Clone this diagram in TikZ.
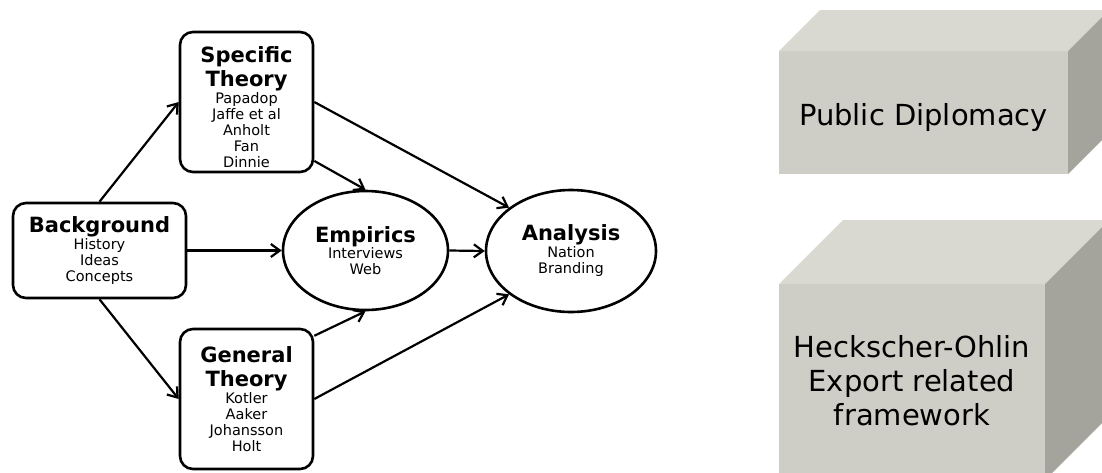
\documentclass[tikz,border=0pt]{standalone}
\usepackage{fontspec}
\setmainfont{DejaVu Sans}
\usetikzlibrary{shapes.geometric,arrows.meta}

\definecolor{cubefront}{RGB}{207,206,198}
\definecolor{cubetop}{RGB}{217,217,209}
\definecolor{cubeside}{RGB}{165,164,156}

\newcommand{\hd}{\fontsize{21}{16}\selectfont\bfseries}
\newcommand{\smallsz}{\fontsize{14.5}{16}\selectfont\lineskiplimit=-100pt\relax}
\newcommand{\cubesz}{\fontsize{29}{34}\selectfont\lineskiplimit=-100pt\relax}

\begin{document}
\begin{tikzpicture}[x=1pt,y=-1pt,
  box/.style={draw, line width=2.6pt, rounded corners=13pt, minimum width=133pt,
              inner sep=0pt, align=center, font=\smallsz},
  oval/.style={ellipse, draw, line width=2.6pt, inner sep=0pt, align=center, font=\smallsz},
  link/.style={line width=2.2pt, -{Straight Barb[length=9pt,width=13pt]}},
  cubetext/.style={font=\cubesz, align=center, inner sep=0pt}]

\useasboundingbox (0,0) rectangle (1102,472);

% research design diagram
\node[box, minimum height=140pt] (spec) at (246.5,102)
  {\rule{0pt}{27pt}\hd Specific\\[8pt]\hd Theory\\[1pt]Papadop\\Jaffe et al\\Anholt\\Fan\\Dinnie};
\node[box, minimum width=173pt, minimum height=95pt] (bg) at (99.5,250.5)
  {\hd Background\\[1pt]History\\Ideas\\Concepts};
\node[box, minimum height=140pt] (gen) at (246.5,399)
  {\hd General\\[8pt]\hd Theory\\[1pt]Kotler\\Aaker\\Johansson\\Holt};
\node[oval, minimum width=165pt, minimum height=119pt] (emp) at (365.5,250.5)
  {\hd Empirics\\Interviews\\Web};
\node[oval, minimum width=170pt, minimum height=122pt] (ana) at (571,251)
  {\hd Analysis\\[1pt]Nation\\Branding};

\draw[link] (bg.north) -- (spec.west);
\draw[link] (bg.south) -- (gen.west);
\draw[link] (bg.east) -- (emp.west);
\draw[link] (spec.-41) -- (emp.north);
\draw[link] (spec.east) -- (ana.145);
\draw[link] (emp.east) -- (ana.west);
\draw[link] (gen.43) -- (emp.south);
\draw[link] (gen.east) -- (ana.215);

% shaded blocks on the right
\begin{scope}
  \clip (0,0) rectangle (1102,472);
  % upper block
  \fill[cubefront] (779,51) rectangle (1068,174);
  \fill[cubetop] (779,51) -- (820,10) -- (1109,10) -- (1068,51) -- cycle;
  \fill[cubeside] (1068,51) -- (1109,10) -- (1109,133) -- (1068,174) -- cycle;
  % lower block
  \fill[cubefront] (779,284) rectangle (1045,480);
  \fill[cubetop] (779,284) -- (843,220) -- (1109,220) -- (1045,284) -- cycle;
  \fill[cubeside] (1045,284) -- (1109,220) -- (1109,416) -- (1045,480) -- cycle;
\end{scope}

\node[cubetext] (pd) at (923.5,117) {Public Diplomacy};
\node[cubetext] (ho) at (912,381) {Heckscher-Ohlin\\Export related\\framework};

\end{tikzpicture}
\end{document}
